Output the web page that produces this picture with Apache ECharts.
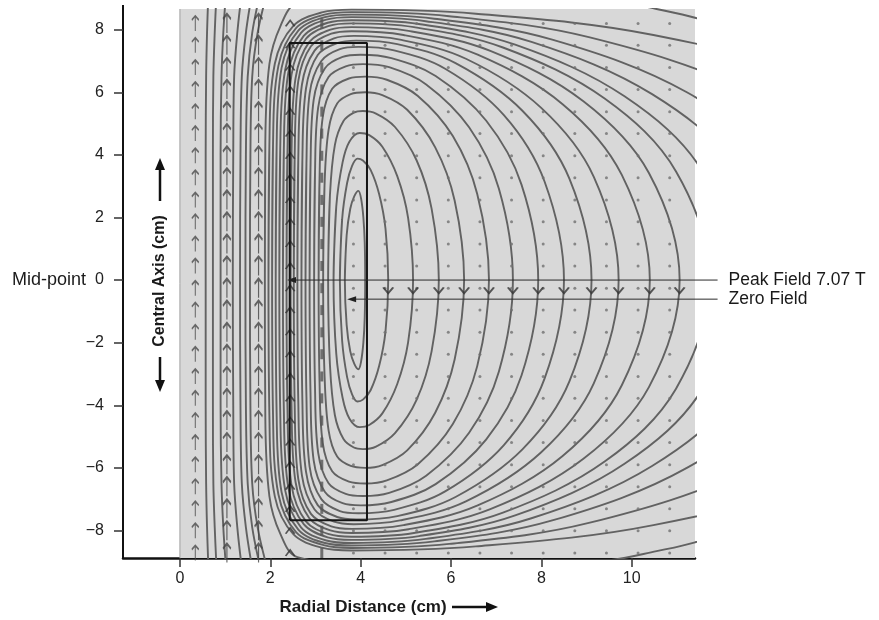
<!DOCTYPE html>
<html>
<head>
<meta charset="utf-8">
<script src="https://cdn.jsdelivr.net/npm/echarts@6.0.0/dist/echarts.min.js"></script>
<style>
html, body { margin: 0; padding: 0; background: #fff; }
#chart { width: 879px; height: 620px; }
</style>
</head>
<body>
<div id="chart"></div>
<script>
// Field lines, upper half only (y >= 0) in cm.
// The picture is symmetric about the mid-plane, the lower half is mirrored.

// bore lines that leave through the top edge
const boreLines = [
  [[0.57,0],[0.57,4],[0.58,6.5],[0.6,7.9],[0.63,9.2]],
  [[0.73,0],[0.73,4],[0.74,6.5],[0.77,7.9],[0.81,9.2]],
  [[0.9,0],[0.9,4],[0.92,6.5],[0.96,7.9],[1.02,9.2]],
  [[1.17,0],[1.18,4],[1.2,6.5],[1.27,7.9],[1.37,9.2]],
  [[1.33,0],[1.34,4],[1.37,6.5],[1.46,7.9],[1.6,9.2]],
  [[1.45,0],[1.46,4],[1.5,6.5],[1.6,7.9],[1.78,9.2]],
  [[1.55,0],[1.56,4],[1.6,6.5],[1.72,7.9],[1.93,9.2]],
]

// lines that come back through the right edge
const edgeLines = [
  [[1.88,0],[1.89,4.4],[1.98,6.9],[2.22,8.1],[2.6,8.85],[5.5,9.35],[9.5,8.95],[10.55,8.66],[11.4,8.38],[13,7.6],[16,4.5],[17,0]],
  [[1.96,0],[1.98,4.32],[2.1,6.91],[2.51,8.12],[3.14,8.55],[3.8,8.64],[6.55,8.51],[10.48,7.83],[14.97,6.11],[18.1,3.65],[19.6,0]],
  [[2.04,0],[2.06,4.28],[2.18,6.85],[2.57,8.05],[3.18,8.47],[3.8,8.56],[5.96,8.43],[9.05,7.76],[12.57,6.05],[15.03,3.62],[16.2,0]],
  [[2.12,0],[2.14,4.24],[2.25,6.78],[2.62,7.97],[3.21,8.4],[3.8,8.48],[5.63,8.35],[8.24,7.68],[11.22,6.0],[13.31,3.59],[14.3,0]],
  [[2.2,0],[2.22,4.2],[2.33,6.72],[2.68,7.9],[3.24,8.32],[3.8,8.4],[5.44,8.27],[7.78,7.61],[10.45,5.94],[12.33,3.55],[13.21,0]],
  [[2.28,0],[2.3,4.15],[2.4,6.64],[2.74,7.8],[3.27,8.22],[3.8,8.3],[5.29,8.18],[7.42,7.52],[9.84,5.87],[11.55,3.51],[12.35,0]],
  [[2.36,0],[2.38,4.1],[2.47,6.56],[2.79,7.71],[3.3,8.12],[3.8,8.2],[5.18,8.08],[7.15,7.43],[9.4,5.8],[10.98,3.47],[11.72,0]],
]

// loops round the winding that cross the mid-plane on both sides
const loopLines = [
  [[2.45,0],[2.47,4.04],[2.56,6.46],[2.86,7.6],[3.33,8.0],[3.8,8.08],[5.06,7.96],[6.87,7.32],[8.93,5.71],[10.38,3.42],[11.06,0]],
  [[2.52,0],[2.54,3.98],[2.62,6.36],[2.9,7.47],[3.35,7.87],[3.8,7.95],[4.95,7.83],[6.59,7.2],[8.47,5.62],[9.78,3.36],[10.4,0]],
  [[2.6,0],[2.62,3.9],[2.7,6.24],[2.98,7.33],[3.41,7.72],[3.85,7.8],[4.87,7.68],[6.33,7.07],[7.99,5.51],[9.16,3.3],[9.71,0]],
  [[2.69,0],[2.71,3.83],[2.79,6.12],[3.05,7.19],[3.48,7.57],[3.9,7.65],[4.81,7.54],[6.1,6.93],[7.58,5.41],[8.62,3.24],[9.11,0]],
  [[2.78,0],[2.8,3.73],[2.87,5.96],[3.13,7.0],[3.54,7.38],[3.95,7.45],[4.74,7.34],[5.87,6.75],[7.17,5.27],[8.07,3.15],[8.5,0]],
  [[2.87,0],[2.89,3.6],[2.96,5.76],[3.21,6.77],[3.6,7.13],[4.0,7.2],[4.68,7.09],[5.66,6.52],[6.78,5.09],[7.56,3.05],[7.93,0]],
  [[2.97,0],[2.99,3.45],[3.06,5.52],[3.29,6.49],[3.67,6.83],[4.05,6.9],[4.63,6.8],[5.45,6.25],[6.4,4.88],[7.06,2.92],[7.37,0]],
  [[3.07,0],[3.09,3.25],[3.16,5.2],[3.37,6.11],[3.74,6.44],[4.1,6.5],[4.58,6.4],[5.26,5.89],[6.04,4.6],[6.58,2.75],[6.84,0]],
  [[3.17,0],[3.2,3.0],[3.29,4.8],[3.48,5.64],[3.78,5.94],[4.1,6.0],[4.48,5.91],[5.03,5.44],[5.65,4.24],[6.08,2.54],[6.29,0]],
  [[3.28,0],[3.32,2.7],[3.43,4.32],[3.62,5.08],[3.85,5.35],[4.05,5.4],[4.34,5.32],[4.76,4.89],[5.24,3.82],[5.57,2.28],[5.73,0]],
  [[3.4,0],[3.46,2.35],[3.6,3.76],[3.75,4.42],[3.98,4.7],[4.19,4.63],[4.48,4.26],[4.81,3.32],[5.05,1.99],[5.16,0]],
  [[3.54,0],[3.59,1.94],[3.7,3.1],[3.81,3.65],[3.93,3.88],[4.05,3.82],[4.22,3.52],[4.41,2.74],[4.55,1.64],[4.61,0]],
  [[3.65,0],[3.69,1.43],[3.77,2.28],[3.86,2.68],[3.95,2.85],[4.01,2.6],[4.06,2.0],[4.09,1.2],[4.1,0]],
]

// down arrows on the return lines, just under the mid-plane
const chevronX = [4.61, 5.16, 5.73, 6.29, 6.84, 7.37, 7.93, 8.5, 9.11, 9.71, 10.4, 11.06]
const chevronY = -0.33

// field vector grid
const arrowCols = [0.34, 1.04, 1.74]
const headCols = [2.44]
const dashCols = [3.14]
const dotCols = [3.84, 4.54, 5.24, 5.94, 6.64, 7.34, 8.04, 8.74, 9.44, 10.14, 10.84]
const gridRows = [8.2, 7.5, 6.79, 6.09, 5.38, 4.68, 3.97, 3.27, 2.56, 1.86, 1.15, 0.45,
  -0.26, -0.96, -1.67, -2.37, -3.08, -3.78, -4.49, -5.19, -5.9, -6.6, -7.31, -8.01, -8.72]

// winding cross-section
const coilR = [2.43, 4.14]
const coilZ = [-7.67, 7.57]

// annotations
const peakX = 2.47
const zeroX = 3.8
const zeroY = -0.61
const noteX = 11.9

const xTicks = [0, 2, 4, 6, 8, 10]
const yTicks = [-8, -6, -4, -2, 0, 2, 4, 6, 8]
const xRange = [-1.26, 11.4]
const yRange = [-8.88, 8.66]

const FONT = '"Liberation Sans", Arial, Helvetica, sans-serif'
const LINE_COLOR = '#626262'

function mirrorRev(pts) {
  return pts.slice().reverse().map(p => [p[0], -p[1]])
}
function closedPath(up) {
  return up.concat(mirrorRev(up).slice(1), [up[1]])
}
function openPath(up) {
  return mirrorRev(up).concat(up.slice(1))
}
function grid(cols) {
  const out = []
  cols.forEach(x => gridRows.forEach(y => out.push([x, y])))
  return out
}

function fieldSeries(data) {
  return {
    type: 'line',
    data: data,
    smooth: 0.35,
    symbol: 'none',
    silent: true,
    clip: true,
    z: 3,
    lineStyle: { color: LINE_COLOR, width: 1.9 },
  }
}

// pointer inside the plot; the part past the plot edge is added as graphic
function pointerSeries(x1, y) {
  return {
    type: 'line',
    data: [
      { value: [xRange[1], y], symbol: 'none' },
      { value: [x1, y], symbol: 'triangle', symbolSize: [6, 9], symbolRotate: 90 },
    ],
    showSymbol: true,
    silent: true,
    z: 8,
    itemStyle: { color: '#222' },
    lineStyle: { color: '#2a2a2a', width: 1 },
  }
}

const series = []

// shaded field region + symmetry axis
series.push({
  type: 'line',
  data: [[0, yRange[0]], [0, yRange[1]]],
  symbol: 'none',
  silent: true,
  z: 1,
  lineStyle: { color: '#a0a0a0', width: 1 },
  markArea: {
    silent: true,
    itemStyle: { color: '#d8d8d8' },
    data: [[{ coord: [0, yRange[0]] }, { coord: [xRange[1], yRange[1]] }]],
  },
})

boreLines.forEach(l => series.push(fieldSeries(openPath(l))))
edgeLines.forEach(l => series.push(fieldSeries(closedPath(l))))
loopLines.forEach(l => series.push(fieldSeries(closedPath(l))))

// vector grid
series.push({
  type: 'scatter',
  data: grid(arrowCols.slice(0, 1)),
  symbol: 'path://M5,26L5,0M0,7L5,0L10,7',
  symbolSize: [7, 15],
  silent: true,
  z: 4,
  itemStyle: { color: 'rgba(0,0,0,0)', borderColor: '#4a4a4a', borderWidth: 1.5 },
})
series.push({
  type: 'scatter',
  data: grid(arrowCols.slice(1)),
  symbol: 'path://M5,26L5,0M0,7L5,0L10,7',
  symbolSize: [8, 19],
  silent: true,
  z: 4,
  itemStyle: { color: 'rgba(0,0,0,0)', borderColor: '#444', borderWidth: 1.8 },
})
series.push({
  type: 'scatter',
  data: grid(headCols),
  symbol: 'path://M0,7L5,0L10,7',
  symbolSize: [9, 6],
  silent: true,
  z: 6,
  itemStyle: { color: 'rgba(0,0,0,0)', borderColor: '#333', borderWidth: 1.5 },
})
series.push({
  type: 'scatter',
  data: grid(dashCols),
  symbol: 'rect',
  symbolSize: [3, 10],
  silent: true,
  z: 4,
  itemStyle: { color: '#555' },
})
series.push({
  type: 'scatter',
  data: grid(dotCols),
  symbol: 'circle',
  symbolSize: 3,
  silent: true,
  z: 4,
  itemStyle: { color: '#707070' },
})

// direction chevrons
series.push({
  type: 'scatter',
  data: chevronX.map(x => [x, chevronY]),
  symbol: 'path://M0,0L6,7L12,0',
  symbolSize: [10, 6],
  silent: true,
  z: 6,
  itemStyle: { color: 'rgba(0,0,0,0)', borderColor: '#333', borderWidth: 1.7 },
})

// winding
series.push({
  type: 'line',
  data: [[coilR[0], coilZ[0]], [coilR[0], coilZ[1]], [coilR[1], coilZ[1]], [coilR[1], coilZ[0]], [coilR[0], coilZ[0]]],
  symbol: 'none',
  silent: true,
  z: 7,
  lineStyle: { color: '#151515', width: 2 },
})

// pointer lines
series.push(pointerSeries(peakX, 0))
series.push(pointerSeries(zeroX, zeroY))

const option = {
  animation: false,
  grid: { left: 123, right: 184, top: 9, bottom: 62 },
  xAxis: {
    type: 'value',
    min: xRange[0],
    max: xRange[1],
    axisLine: { show: true, onZero: false, lineStyle: { color: '#111', width: 2.5 } },
    axisTick: { show: true, customValues: xTicks, length: 9, lineStyle: { color: '#333', width: 1.5 } },
    axisLabel: { customValues: xTicks, fontSize: 16, color: '#222', margin: 13, fontFamily: FONT },
    splitLine: { show: false },
  },
  yAxis: {
    type: 'value',
    min: yRange[0],
    max: yRange[1],
    axisLine: { show: true, onZero: false, lineStyle: { color: '#111', width: 2 } },
    axisTick: { show: true, customValues: yTicks, length: 9, lineStyle: { color: '#333', width: 1.5 } },
    axisLabel: {
      customValues: yTicks,
      fontSize: 16,
      color: '#222',
      margin: 19,
      fontFamily: FONT,
      formatter: v => (v < 0 ? '\u2212' + Math.abs(v) : '' + v),
    },
    splitLine: { show: false },
  },
  series: series,
}

const chart = echarts.init(document.getElementById('chart'))
chart.setOption(option)

const toPx = p => chart.convertToPixel({ gridIndex: 0 }, p)
const mid = toPx([0, 0])
const edge0 = toPx([xRange[1], 0])
const note0 = toPx([noteX, 0])
const edgeZ = toPx([xRange[1], zeroY])
const noteZ = toPx([noteX, zeroY])
const topL = toPx([xRange[0], yRange[1]])
const tx = note0[0] + 11
const textStyle = (t, x, y, extra) => Object.assign({
  type: 'text',
  x: x, y: y,
  style: Object.assign({ text: t, font: '17px ' + FONT, fill: '#1a1a1a', textVerticalAlign: 'middle' }, extra || {}),
})

chart.setOption({
  graphic: [
    { type: 'line', shape: { x1: edge0[0], y1: edge0[1], x2: note0[0], y2: note0[1] }, style: { stroke: '#2a2a2a', lineWidth: 1 } },
    { type: 'line', shape: { x1: edgeZ[0], y1: edgeZ[1], x2: noteZ[0], y2: noteZ[1] }, style: { stroke: '#2a2a2a', lineWidth: 1 } },
    { type: 'line', shape: { x1: topL[0], y1: topL[1], x2: topL[0], y2: topL[1] - 4 }, style: { stroke: '#111', lineWidth: 2 } },
    textStyle('Mid-point', 86, mid[1], { textAlign: 'right', font: '18px ' + FONT }),
    textStyle('Peak Field 7.07 T', tx, note0[1], { textAlign: 'left', font: '17.5px ' + FONT }),
    textStyle('Zero Field', tx, noteZ[1], { textAlign: 'left', font: '17.5px ' + FONT }),
    textStyle('Radial Distance (cm)', 363, 607, { textAlign: 'center', font: 'bold 17px ' + FONT }),
    { type: 'line', shape: { x1: 452, y1: 607, x2: 489, y2: 607 }, style: { stroke: '#111', lineWidth: 2.5 } },
    { type: 'polygon', shape: { points: [[486, 602], [498, 607], [486, 612]] }, style: { fill: '#111' } },
    {
      type: 'text', x: 160, y: 281, rotation: Math.PI / 2,
      style: { text: 'Central Axis (cm)', font: 'bold 16px ' + FONT, fill: '#1a1a1a', textAlign: 'center', textVerticalAlign: 'middle' },
    },
    { type: 'line', shape: { x1: 160, y1: 201, x2: 160, y2: 168 }, style: { stroke: '#111', lineWidth: 2.5 } },
    { type: 'polygon', shape: { points: [[155, 170], [160, 158], [165, 170]] }, style: { fill: '#111' } },
    { type: 'line', shape: { x1: 160, y1: 357, x2: 160, y2: 382 }, style: { stroke: '#111', lineWidth: 2.5 } },
    { type: 'polygon', shape: { points: [[155, 380], [160, 392], [165, 380]] }, style: { fill: '#111' } },
  ],
})
</script>
</body>
</html>
